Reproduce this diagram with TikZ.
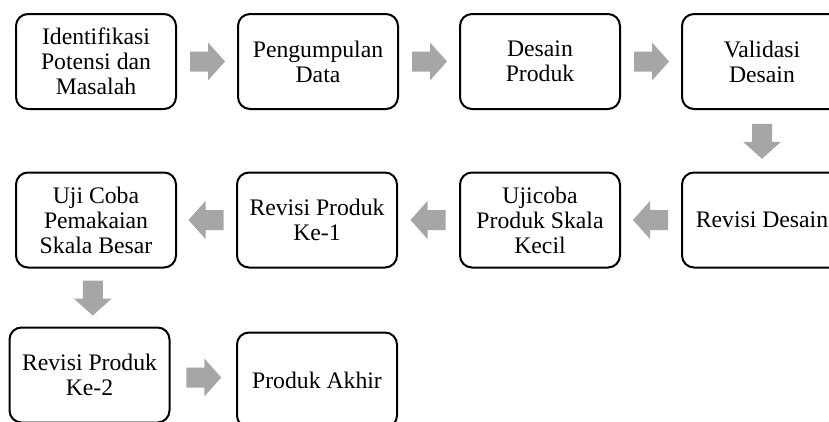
\documentclass[tikz,border=0pt]{standalone}
\usepackage{fontspec}
\setmainfont{Liberation Serif}
\usetikzlibrary{calc}
\definecolor{arrowgray}{HTML}{A6A6A6}
\tikzset{
  stepbox/.style={draw=black, line width=2pt, rounded corners=12pt, fill=white,
    minimum width=160pt, minimum height=95pt, align=center, inner sep=2pt,
    font=\fontsize{23.7pt}{25pt}\selectfont},
}
\newcommand\blockarrow[3]{%
  \begin{scope}[shift={($(#1)!0.5!(#2)$)}, rotate=#3]
    \fill[arrowgray] (-17,-10) -- (1,-10) -- (1,-19) -- (18,0) -- (1,19) -- (1,10) -- (-17,10) -- cycle;
  \end{scope}}
\begin{document}
\begin{tikzpicture}[x=1pt,y=-1pt]
\useasboundingbox (0,0) rectangle (829,421);
\clip (0,0) rectangle (829,421);
\fill[white] (0,0) rectangle (829,421);
% row 1
\node[stepbox] (a1) at (96,61.5) {Identifikasi\\Potensi dan\\Masalah};
\node[stepbox] (a2) at (318,61.5) {Pengumpulan\\Data};
\node[stepbox] (a3) at (540,61.5) {Desain\\Produk};
\node[stepbox] (a4) at (762,61.5) {Validasi\\Desain};
% row 2
\node[stepbox] (b4) at (762,220) {Revisi Desain};
\node[stepbox] (b3) at (540,220) {Ujicoba\\Produk Skala\\Kecil};
\node[stepbox] (b2) at (317,220) {Revisi Produk\\Ke-1};
\node[stepbox] (b1) at (96,220) {Uji Coba\\Pemakaian\\Skala Besar};
% row 3
\node[stepbox] (c1) at (89.5,375) {Revisi Produk\\Ke-2};
\node[stepbox] (c2) at (317,380) {Produk Akhir};
% arrows
\blockarrow{a1.east}{a2.west}{0}
\blockarrow{a2.east}{a3.west}{0}
\blockarrow{a3.east}{a4.west}{0}
\blockarrow{a4.south}{b4.north}{-90}
\blockarrow{b4.west}{b3.east}{180}
\blockarrow{b3.west}{b2.east}{180}
\blockarrow{b2.west}{b1.east}{180}
\blockarrow{b1.south}{c1.north}{-90}
\blockarrow{c1.east}{c2.west}{0}
\end{tikzpicture}
\end{document}
